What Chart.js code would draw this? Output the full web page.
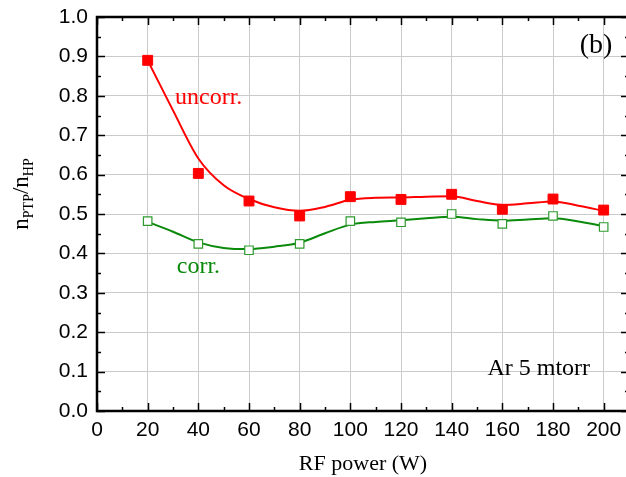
<!DOCTYPE html>
<html>
<head>
<meta charset="utf-8">
<script src="https://cdn.jsdelivr.net/npm/chart.js@4/dist/chart.umd.min.js"></script>
<style>
  html, body { margin: 0; background: #fff; overflow: hidden; }
  #wrap { width: 626px; height: 477px; overflow: hidden; }
</style>
</head>
<body>
<div id="wrap"><canvas id="ratioChart" width="637" height="477"></canvas></div>
<script>
// measured points
const powers = [20, 40, 60, 80, 100, 120, 140, 160, 180, 200];
const uncorr = [0.890, 0.603, 0.533, 0.495, 0.544, 0.537, 0.550, 0.512, 0.538, 0.510];
const corr = [0.482, 0.424, 0.408, 0.424, 0.482, 0.479, 0.500, 0.475, 0.495, 0.467];

// smooth curves
const uncorrFitX = [20, 30, 40, 50, 60, 70, 80, 90, 100, 110, 120, 130, 140, 150, 160, 170, 180, 190, 200];
const uncorrFitY = [0.890, 0.763, 0.641, 0.573, 0.538, 0.517, 0.508, 0.518, 0.536, 0.541, 0.542, 0.544, 0.545, 0.533, 0.523, 0.527, 0.532, 0.521, 0.508];
const corrFitX = [20, 30, 40, 50, 60, 70, 80, 90, 100, 110, 120, 130, 140, 150, 160, 170, 180, 190, 200];
const corrFitY = [0.480, 0.455, 0.428, 0.414, 0.411, 0.417, 0.427, 0.451, 0.473, 0.480, 0.484, 0.489, 0.493, 0.487, 0.483, 0.486, 0.489, 0.481, 0.469];

const xTicks = [0, 20, 40, 60, 80, 100, 120, 140, 160, 180, 200];

const red = '#ff0000';
const green = '#0a8a0a';

function pts(xs, ys) {
  return xs.map((x, i) => ({ x: x, y: ys[i] }));
}

Chart.defaults.font.family = 'Liberation Sans';
Chart.defaults.color = '#000';

// frame with inward ticks, annotations and the y title with subscripts
const framePlugin = {
  id: 'frame',
  afterDraw(chart) {
    const ctx = chart.ctx;
    const a = chart.chartArea;
    const xs = chart.scales.x, ys = chart.scales.y;
    ctx.save();
    ctx.strokeStyle = '#000';
    ctx.lineWidth = 1.5;
    ctx.beginPath();
    for (let v = 0; v <= 210; v += 10) {
      const px = Math.round(xs.getPixelForValue(v)) + 0.5;
      const len = v % 20 === 0 ? 8 : 4;
      ctx.moveTo(px, a.bottom); ctx.lineTo(px, a.bottom - len);
      ctx.moveTo(px, a.top); ctx.lineTo(px, a.top + len);
    }
    for (let i = 0; i <= 20; i++) {
      const py = Math.round(ys.getPixelForValue(i * 0.05)) + 0.5;
      const len = i % 2 === 0 ? 8 : 4;
      ctx.moveTo(a.left, py); ctx.lineTo(a.left + len, py);
      ctx.moveTo(a.right, py); ctx.lineTo(a.right - len, py);
    }
    ctx.stroke();
    ctx.lineWidth = 2.5;
    ctx.strokeRect(a.left, a.top, a.right - a.left, a.bottom - a.top);

    // annotations
    ctx.textBaseline = 'alphabetic';
    ctx.font = '24px "Liberation Serif"';
    ctx.fillStyle = red;
    ctx.textAlign = 'left';
    ctx.fillText('uncorr.', xs.getPixelForValue(30.8), ys.getPixelForValue(0.78));
    ctx.fillStyle = green;
    ctx.fillText('corr.', xs.getPixelForValue(31.5), ys.getPixelForValue(0.349));
    ctx.fillStyle = '#000';
    ctx.fillText('Ar 5 mtorr', xs.getPixelForValue(154.1), ys.getPixelForValue(0.091));
    ctx.font = '28px "Liberation Serif"';
    ctx.textAlign = 'right';
    ctx.fillText('(b)', xs.getPixelForValue(203.4), ys.getPixelForValue(0.909));

    // y title: n_PTP / n_HP
    ctx.translate(28, 194);
    ctx.rotate(-Math.PI / 2);
    ctx.textAlign = 'left';
    const big = '23px "Liberation Serif"', small = '14px "Liberation Serif"';
    const parts = [['n', big, 0], ['PTP', small, 5], ['/', big, 0], ['n', big, 0], ['HP', small, 5]];
    let total = 0;
    parts.forEach(p => { ctx.font = p[1]; total += ctx.measureText(p[0]).width; });
    let cx = -total / 2;
    parts.forEach(p => {
      ctx.font = p[1];
      ctx.fillText(p[0], cx, p[2]);
      cx += ctx.measureText(p[0]).width;
    });
    ctx.restore();
  }
};

new Chart(document.getElementById('ratioChart'), {
  type: 'scatter',
  data: {
    datasets: [
      {
        label: 'uncorr.',
        data: pts(powers, uncorr),
        showLine: false,
        pointStyle: 'rect',
        pointRadius: 7,
        backgroundColor: red,
        borderColor: red,
        borderWidth: 1
      },
      {
        label: 'corr.',
        data: pts(powers, corr),
        showLine: false,
        pointStyle: 'rect',
        pointRadius: 6,
        backgroundColor: '#fff',
        borderColor: '#2e9a2e',
        borderWidth: 1.2
      },
      {
        label: 'uncorr. fit',
        data: pts(uncorrFitX, uncorrFitY),
        showLine: true,
        pointRadius: 0,
        borderColor: red,
        borderWidth: 2,
        cubicInterpolationMode: 'monotone'
      },
      {
        label: 'corr. fit',
        data: pts(corrFitX, corrFitY),
        showLine: true,
        pointRadius: 0,
        borderColor: green,
        borderWidth: 2,
        cubicInterpolationMode: 'monotone'
      }
    ]
  },
  options: {
    responsive: false,
    animation: false,
    layout: { padding: { top: 17, left: 0, right: 3, bottom: 0 } },
    plugins: {
      legend: { display: false },
      tooltip: { enabled: false }
    },
    scales: {
      x: {
        type: 'linear',
        min: 0,
        max: 210,
        afterBuildTicks: s => { s.ticks = xTicks.map(v => ({ value: v })); },
        afterFit: s => { s.height = 66; s.paddingLeft = 0; s.paddingRight = 0; },
        ticks: {
          padding: 7,
          maxRotation: 0,
          font: { size: 21 },
          color: '#000'
        },
        grid: { color: '#cbcbcb', lineWidth: 1, drawTicks: false },
        border: { display: false },
        title: {
          display: true,
          text: 'RF power (W)',
          font: { family: 'Liberation Serif', size: 22 },
          color: '#000',
          padding: { top: 0, bottom: 0 }
        }
      },
      y: {
        min: 0,
        max: 1,
        afterFit: s => { s.width = 97; s.paddingTop = 0; s.paddingBottom = 0; },
        ticks: {
          stepSize: 0.1,
          padding: 9,
          font: { size: 21 },
          color: '#000',
          callback: v => v.toFixed(1)
        },
        grid: { color: '#cbcbcb', lineWidth: 1, drawTicks: false },
        border: { display: false }
      }
    }
  },
  plugins: [framePlugin]
});
</script>
</body>
</html>
